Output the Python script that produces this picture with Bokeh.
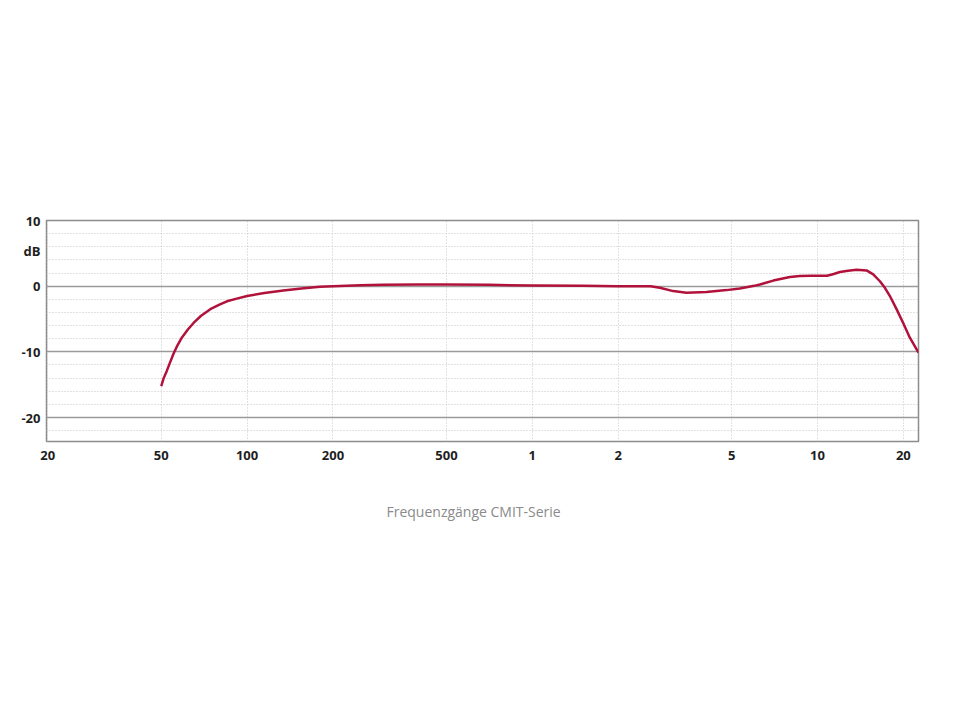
from bokeh.plotting import figure
from bokeh.models import FixedTicker, Range1d, Title
from bokeh.embed import file_html
from bokeh.resources import INLINE

# ---- data ----
freq_hz = [50, 51, 52.3, 53.7, 55.2, 57, 59.1, 62, 64.9, 69, 74.3, 80, 85, 92, 100, 115,
           134, 155, 180, 200, 250, 300, 400, 500, 700, 1000, 1500, 2000, 2400, 2600,
           2800, 3120, 3470, 4080, 4800, 5340, 6000, 6280, 7000, 8000, 8670, 9500,
           10800, 11400, 11980, 12800, 13700, 14860, 15680, 16550, 17230, 17940, 18930,
           19970, 21080, 22600]
level_db = [-15.2, -14.0, -12.9, -11.6, -10.3, -9.0, -7.8, -6.6, -5.6, -4.5, -3.5, -2.8,
            -2.3, -1.9, -1.5, -1.05, -0.65, -0.35, -0.1, 0.0, 0.15, 0.2, 0.25, 0.25, 0.2,
            0.1, 0.05, 0.0, 0.0, 0.0, -0.25, -0.75, -1.0, -0.9, -0.6, -0.35, 0.05, 0.25,
            0.85, 1.4, 1.55, 1.6, 1.6, 1.85, 2.15, 2.35, 2.5, 2.4, 1.8, 0.75, -0.25, -1.5,
            -3.5, -5.6, -7.85, -10.1]

x_ticks = [20, 50, 100, 200, 500, 1000, 2000, 5000, 10000, 20000]
x_tick_labels = ["20", "50", "100", "200", "500", "1", "2", "5", "10", "20"]
y_ticks = [10, 0, -10, -20]
y_tick_labels = ["10", "0", "-10", "-20"]
y_minor = [8, 6, 4, 2, -2, -4, -6, -8, -12, -14, -16, -18, -22]
caption = "Frequenzgänge CMIT-Serie"
unit_label = "dB"
unit_label_at = 5.4  # dB level where the unit label sits

# ---- figure ----
p = figure(width=944, height=704, x_axis_type="log", output_backend="svg",
           toolbar_location=None,
           x_range=Range1d(19.8, 22600), y_range=Range1d(-23.65, 10),
           min_border_left=46, min_border_right=26, min_border_top=220,
           min_border_bottom=263)
p.background_fill_color = "white"
p.border_fill_color = "white"
p.outline_line_color = "#8c8c8c"
p.outline_line_width = 1.5

p.xaxis.ticker = FixedTicker(ticks=x_ticks)
p.xaxis.major_label_overrides = {t: l for t, l in zip(x_ticks, x_tick_labels)}
p.yaxis.ticker = FixedTicker(ticks=y_ticks + [unit_label_at])
y_over = {t: l for t, l in zip(y_ticks, y_tick_labels)}
y_over[unit_label_at] = unit_label
p.yaxis.major_label_overrides = y_over

for ax in (p.xaxis, p.yaxis):
    ax.axis_line_color = None
    ax.major_tick_line_color = None
    ax.minor_tick_line_color = None
    ax.major_label_text_font = "Open Sans"
    ax.major_label_text_font_style = "bold"
    ax.major_label_text_font_size = "13px"
    ax.major_label_text_color = "#1e1e1e"
p.xaxis.major_label_standoff = 3
p.yaxis.major_label_standoff = 0

p.xgrid.grid_line_color = "#c4c4c4"
p.xgrid.grid_line_dash = "1 2"
p.xgrid.grid_line_width = 1

p.ygrid.ticker = FixedTicker(ticks=y_ticks, minor_ticks=y_minor)
p.ygrid.grid_line_color = "#9a9a9a"
p.ygrid.grid_line_width = 1.3
p.ygrid.minor_grid_line_color = "#c4c4c4"
p.ygrid.minor_grid_line_dash = "1 2"
p.ygrid.minor_grid_line_width = 1

p.line(freq_hz, level_db, line_color="#B0123B", line_width=2.5, line_join="round")

cap = Title(text=caption, align="left", offset=340, standoff=75,
            text_font="Open Sans", text_font_size="14px", text_font_style="normal",
            text_color="#8a8a8a")
p.add_layout(cap, "below")

open("out.html", "w").write(file_html(p, INLINE))
